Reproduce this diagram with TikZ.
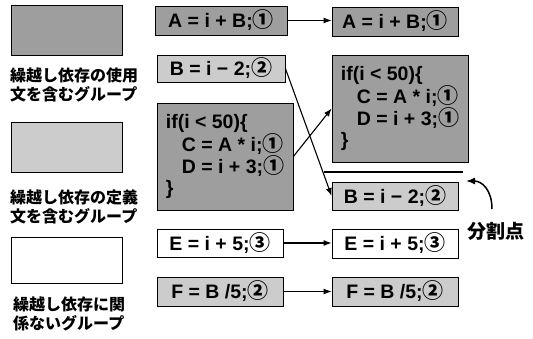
\documentclass[tikz,border=0pt]{standalone}
\usepackage{fontspec}
\setmainfont{Liberation Sans}
\newfontfamily\cjk{Noto Sans CJK JP}
\usetikzlibrary{arrows.meta}
\newcommand{\cn}[1]{{\cjk\bfseries\fontsize{21}{21}\selectfont #1}}
\begin{document}
\begin{tikzpicture}[x=1pt,y=-1pt,
  box/.style={draw=black, line width=0.8pt, rectangle, inner sep=0pt,
    font=\fontsize{19.5}{21.5}\selectfont\bfseries},
  dark/.style={box, fill=black!38},
  light/.style={box, fill=black!20},
  plain/.style={box, fill=white},
  legtext/.style={font=\cjk\bfseries\fontsize{16}{19}\selectfont, align=left, inner sep=0pt},
  link/.style={line width=1.1pt, -{Latex[length=8pt,width=6pt]}}]
\useasboundingbox (0,0) rectangle (533,339);
% legend
\node[dark, minimum width=111pt, minimum height=50pt] (lg1) at (66.5,30) {};
\node[legtext, anchor=west] (lt1) at (10,85) {繰越し依存の使用\\文を含むグループ};
\node[light, minimum width=111pt, minimum height=50pt] (lg2) at (66.5,147) {};
\node[legtext, anchor=west] (lt2) at (10,206.5) {繰越し依存の定義\\文を含むグループ};
\node[plain, minimum width=111pt, minimum height=46pt] (lg3) at (66.5,260) {};
\node[legtext, anchor=west] (lt3) at (13,313.5) {繰越し依存に関\\係ないグループ};
% middle column
\node[dark, minimum width=132pt, minimum height=29pt] (mA) at (221,20.5) {A = i + B;\cn{①}};
\node[light, minimum width=128pt, minimum height=27pt] (mB) at (221,68.5) {B = i − 2;\cn{②}};
\node[dark, minimum width=136pt, minimum height=107pt, align=left] (mIf) at (225,156.5)
  {if(i < 50)\{\\\hspace{16pt}C = A * i;\cn{①}\\\hspace{16pt}D = i + 3;\cn{①}\\\}};
\node[plain, minimum width=126pt, minimum height=28pt] (mE) at (220,243) {E = i + 5;\cn{③}};
\node[light, minimum width=126pt, minimum height=29pt] (mF) at (220,291.5) {F = B /5;\cn{②}};
% right column
\node[dark, minimum width=126pt, minimum height=29pt] (rA) at (395,21.5) {A = i + B;\cn{①}};
\node[dark, minimum width=136pt, minimum height=107pt, align=left] (rIf) at (400,108.5)
  {if(i < 50)\{\\\hspace{16pt}C = A * i;\cn{①}\\\hspace{16pt}D = i + 3;\cn{①}\\\}};
\node[light, minimum width=126pt, minimum height=28pt] (rB) at (395,196) {B = i − 2;\cn{②}};
\node[plain, minimum width=126pt, minimum height=29pt] (rE) at (395,243.5) {E = i + 5;\cn{③}};
\node[light, minimum width=126pt, minimum height=29pt] (rF) at (395,291.5) {F = B /5;\cn{②}};
% partition line
\coordinate (p1) at (324,172);
\coordinate (p2) at (463,172);
\draw[line width=2pt] (p1) -- (p2);
\node[font=\cjk\bfseries\fontsize{19}{19}\selectfont, inner sep=0pt] (split) at (496,231) {分割点};
\coordinate (c0) at (492,209);
\coordinate (c1) at (466,181);
\draw[line width=1.5pt, -{Latex[length=9pt,width=7pt]}] (c0) .. controls (492,190) and (482,181) .. (c1);
% connectors
\draw[link] (mA.east) -- (mA.east -| rA.west);
\draw[link] (mB.east) -- (rB.west);
\draw[link] (mIf.east) -- (rIf.west);
\draw[link] (mE.east) -- (mE.east -| rE.west);
\draw[link] (mF.east) -- (mF.east -| rF.west);
\end{tikzpicture}
\end{document}
